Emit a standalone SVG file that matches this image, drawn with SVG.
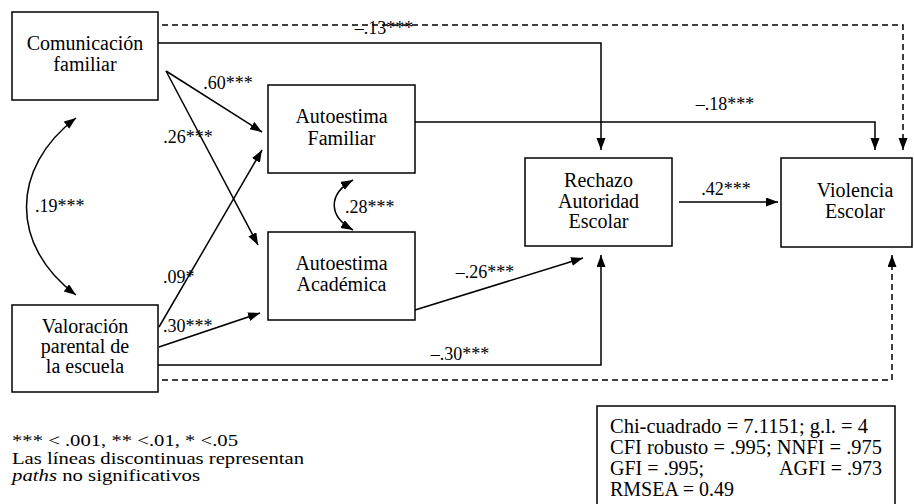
<svg xmlns="http://www.w3.org/2000/svg" width="914" height="504" viewBox="0 0 914 504" font-family="'Liberation Serif', 'Times New Roman', serif">
<style>
.box{fill:#fff;stroke:#000;stroke-width:1.5}
text{font-family:"Liberation Serif","Times New Roman",serif;fill:#000}
.t{font-size:20px;text-anchor:middle}
.l{font-size:18px}
.c{text-anchor:middle}
.s{font-size:20px}
.n{font-size:16.5px}
.e{fill:none;stroke:#000;stroke-width:1.5}
.d{fill:none;stroke:#000;stroke-width:1.5;stroke-dasharray:6 4}
</style>
<defs>
<marker id="ah" markerUnits="userSpaceOnUse" markerWidth="13" markerHeight="10" refX="12" refY="4.5" orient="auto-start-reverse">
<path d="M0,0 L12,4.5 L0,9 z" fill="#000"/>
</marker>
</defs>
<g id="connectors">
<path class="d" d="M162,25 H903 V150" marker-end="url(#ah)"/>
<path class="e" d="M158,43 H601 V150" marker-end="url(#ah)"/>
<path class="e" d="M415,122 H875 V150" marker-end="url(#ah)"/>
<path class="e" d="M679,202 H778" marker-end="url(#ah)"/>
<path class="e" d="M166,71 L262,132" marker-end="url(#ah)"/>
<path class="e" d="M166,71 L258,245" marker-end="url(#ah)"/>
<path class="e" d="M159,327 L262,150" marker-end="url(#ah)"/>
<path class="e" d="M159,347 L260,313" marker-end="url(#ah)"/>
<path class="e" d="M415,310 L583,258" marker-end="url(#ah)"/>
<path class="e" d="M158,365 H601 V255" marker-end="url(#ah)"/>
<path class="d" d="M162,380 H892 V255" marker-end="url(#ah)"/>
<path class="e" d="M76,118 C10,168 10,246 76,295" marker-start="url(#ah)" marker-end="url(#ah)"/>
<path class="e" d="M353,180 C328,194 328,216 353,230" marker-start="url(#ah)" marker-end="url(#ah)"/>
<text class="l c" x="384" y="34">–.13***</text>
<text class="l c" x="725" y="110">–.18***</text>
<text class="l c" x="726" y="195">.42***</text>
<text class="l c" x="228" y="89">.60***</text>
<text class="l c" x="188" y="143">.26***</text>
<text class="l" x="163" y="283">.09*</text>
<text class="l" x="163" y="332">.30***</text>
<text class="l c" x="485" y="278">–.26***</text>
<text class="l c" x="460" y="360">–.30***</text>
<text class="l" x="345" y="213">.28***</text>
<text class="l" x="35" y="212">.19***</text>
</g>
<g id="comunicacion">
<rect class="box" x="12" y="12" width="146" height="88"/>
<text class="t" x="85" y="50">Comunicación</text>
<text class="t" x="85" y="71">familiar</text>
</g>
<g id="autoestima-familiar">
<rect class="box" x="268" y="85" width="147" height="88"/>
<text class="t" x="341.5" y="123">Autoestima</text>
<text class="t" x="341.5" y="145">Familiar</text>
</g>
<g id="autoestima-academica">
<rect class="box" x="268" y="232" width="147" height="88"/>
<text class="t" x="341.5" y="270">Autoestima</text>
<text class="t" x="341.5" y="291">Académica</text>
</g>
<g id="rechazo">
<rect class="box" x="525" y="158" width="147" height="88"/>
<text class="t" x="598.5" y="187">Rechazo</text>
<text class="t" x="598.5" y="208">Autoridad</text>
<text class="t" x="598.5" y="228">Escolar</text>
</g>
<g id="violencia">
<rect class="box" x="781" y="158" width="131" height="89"/>
<text class="t" x="855" y="197">Violencia</text>
<text class="t" x="855" y="218">Escolar</text>
</g>
<g id="valoracion">
<rect class="box" x="12" y="305" width="146" height="87"/>
<text class="t" x="85" y="333">Valoración</text>
<text class="t" x="85" y="353">parental de</text>
<text class="t" x="85" y="373">la escuela</text>
</g>
<g id="notas">
<text class="n" x="12" y="446" textLength="226" lengthAdjust="spacingAndGlyphs">*** &lt; .001, ** &lt;.01, * &lt;.05</text>
<text class="n" x="12" y="463.5" textLength="292" lengthAdjust="spacingAndGlyphs">Las líneas discontinuas representan</text>
<text class="n" x="12" y="481" textLength="188" lengthAdjust="spacingAndGlyphs"><tspan font-style="italic">paths</tspan> no significativos</text>
</g>
<g id="ajuste">
<rect class="box" x="597" y="406" width="298" height="110"/>
<text class="s" x="610" y="433" textLength="258" lengthAdjust="spacingAndGlyphs">Chi-cuadrado = 7.1151; g.l. = 4</text>
<text class="s" x="610" y="454" textLength="272" lengthAdjust="spacingAndGlyphs">CFI robusto = .995; NNFI = .975</text>
<text class="s" x="610" y="475">GFI = .995;</text>
<text class="s" x="882" y="475" text-anchor="end">AGFI = .973</text>
<text class="s" x="610" y="496">RMSEA = 0.49</text>
</g>
</svg>
